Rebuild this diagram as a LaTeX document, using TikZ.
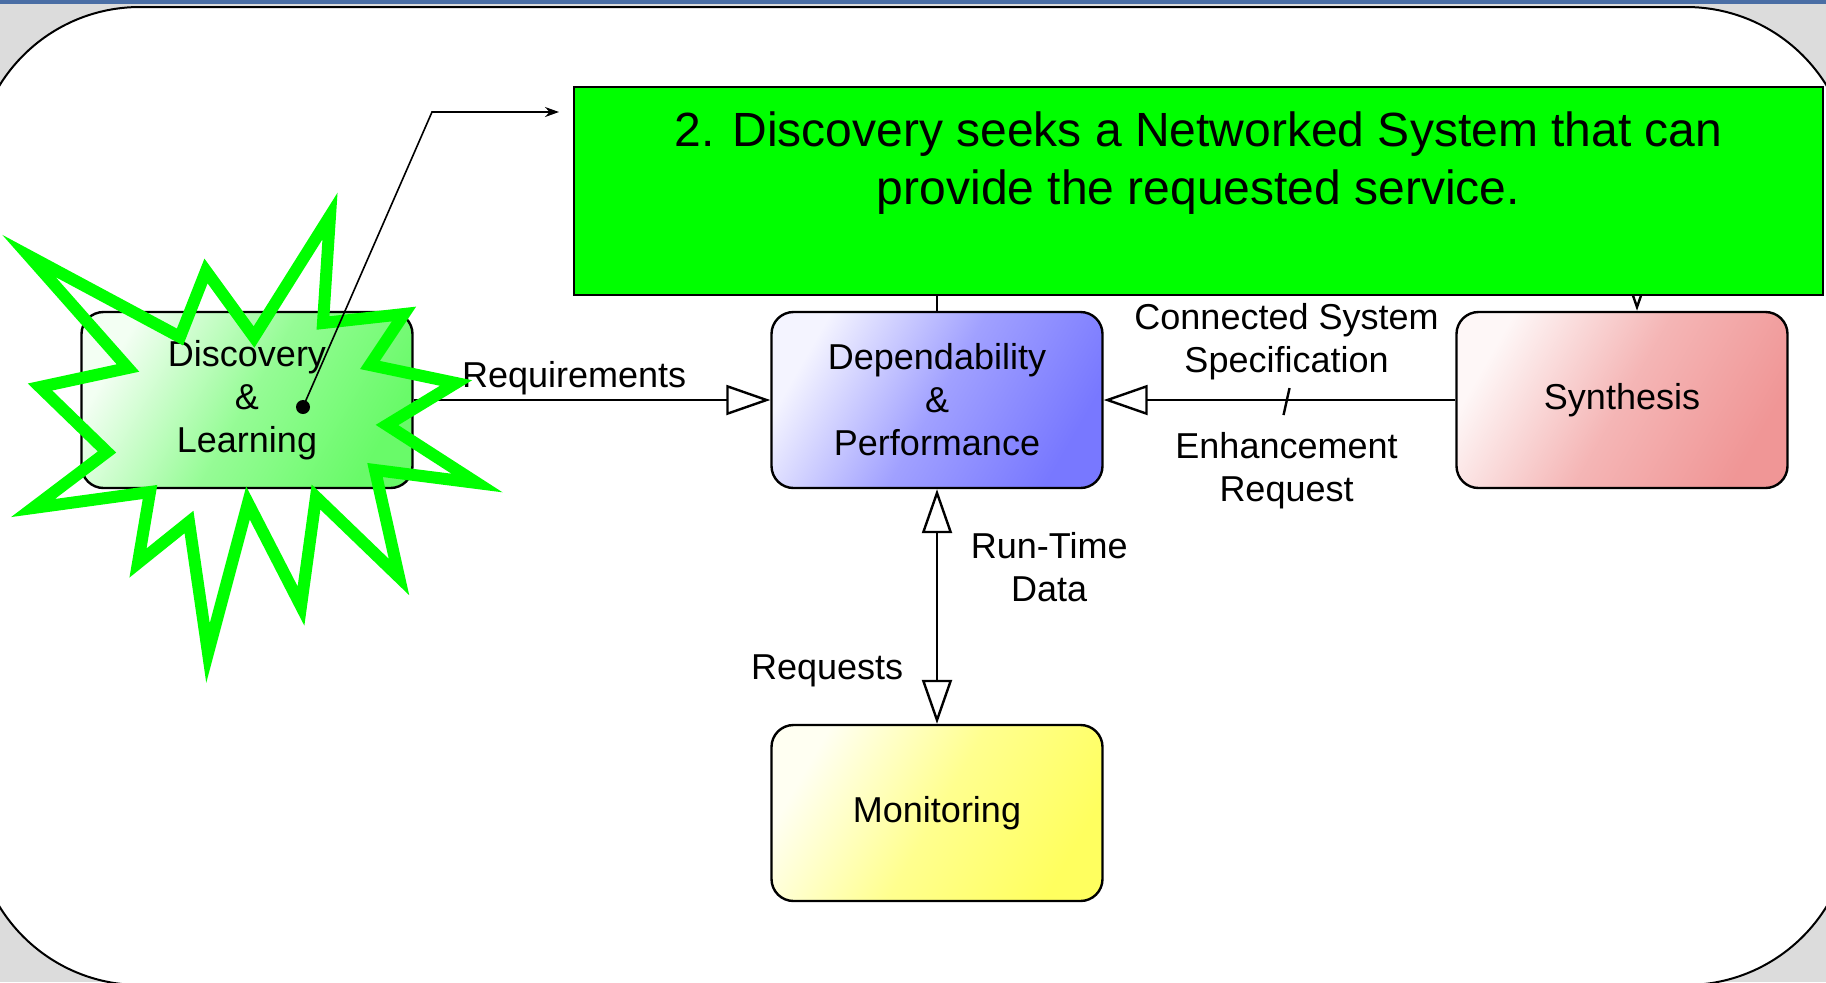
\documentclass[tikz,border=0pt]{standalone}
\usepackage{fontspec}
\setmainfont{Liberation Sans}
\usetikzlibrary{arrows.meta,positioning}
\definecolor{slide-gray}{RGB}{220,220,220}
\definecolor{slide-blue}{RGB}{74,110,165}
\definecolor{disc-green}{RGB}{105,250,105}
\definecolor{dep-blue}{RGB}{120,120,255}
\definecolor{syn-red}{RGB}{240,150,150}
\definecolor{mon-yellow}{RGB}{255,255,95}
\definecolor{note-green}{RGB}{0,255,0}
\tikzset{
    rounded-block/.style = {draw, line width=1.2pt, rectangle, rounded corners=11pt, minimum width=165.5pt, minimum height=88pt, align=center, font=\fontsize{18}{21.5}\selectfont},
    shaded-block/.style = {rounded-block, left color=#1!8!white, right color=#1, middle color=#1!70!white, shading angle=60},
    flow/.style = {draw, line width=1.2pt, -{Triangle[open, length=22pt, width=15pt]}},
    two-way-flow/.style = {draw, line width=1.2pt, {Triangle[open, length=22pt, width=15pt]}-{Triangle[open, length=22pt, width=15pt]}},
    flow-label/.style = {align=center, font=\fontsize{18}{21.5}\selectfont},
    note-box/.style = {draw, fill=note-green, line width=0.9pt, minimum width=624.5pt, minimum height=104pt},
    note-text/.style = {align=center, font=\fontsize{24}{29}\selectfont},
    burst/.style = {draw=note-green, line width=6pt, line join=miter},
    pointer/.style = {draw, line width=0.8pt, -{Stealth[length=7pt, width=5pt]}},
}
\begin{document}
\begin{tikzpicture}[x=0.5pt, y=-0.5pt]
\useasboundingbox (0,0) rectangle (1826,982);
\clip (0,0) rectangle (1826,982);
% slide
\fill[slide-gray] (0,0) rectangle (1826,982);
\fill[slide-blue] (0,0) rectangle (1826,4);
\draw[fill=white, line width=1pt, rounded corners=82.5pt] (-25,7) rectangle (1851,985);

% blocks
\node[shaded-block=disc-green] (disc) at (247,400) {Discovery\\\&\\Learning};
\node[shaded-block=dep-blue] (dep) at (937,400) {Dependability\\\&\\Performance};
\node[shaded-block=syn-red] (syn) at (1622,400) {Synthesis};
\node[shaded-block=mon-yellow] (mon) at (937,813) {Monitoring};

% connectors
\draw[flow] (disc) -- node[flow-label, above=-1.5pt, pos=0.45] {Requirements} (dep);
\draw[flow] (syn) -- node[flow-label, above=6pt, pos=0.48] {Connected System\\Specification}
    node[flow-label, below=12.5pt, pos=0.48] {Enhancement\\Request}
    coordinate[pos=0.48] (cut) (dep);
\draw[line width=1.2pt] ([shift={(3,-12)}]cut) -- ([shift={(-3,15)}]cut);
\draw[two-way-flow] (dep) -- node[flow-label, right=13pt, pos=0.33] {Run-Time\\Data}
    node[flow-label, left=13pt, pos=0.775] {Requests} (mon);
\draw[flow] (dep.north) -- ++(0,-75) -| ([xshift=7.5pt]syn.north);

% callout
\node[note-box] (note) at (1198.5,191) {};
\node[note-text] (note-text) at (1198.5,163) {2. Discovery seeks a Networked System that can\\provide the requested service.};

\draw[burst] (29,256) -- (180,337) -- (206,271) -- (254,337) -- (330,216) -- (323,323)
    -- (404,314) -- (370,365) -- (456,383) -- (387,425) -- (477,483) -- (375,470)
    -- (399,577) -- (316,497) -- (301,606) -- (248,503) -- (208,653) -- (189,522)
    -- (138,563) -- (150,492) -- (33,508) -- (107,452) -- (40,387) -- (128,368) -- cycle;

\node[circle, fill, inner sep=0pt, minimum size=7pt] (dot) at (303,407) {};
\coordinate (bend) at (432,112);
\coordinate (tip) at (559,112);
\draw[pointer] (dot.center) -- (bend) -- (tip);
\end{tikzpicture}
\end{document}
